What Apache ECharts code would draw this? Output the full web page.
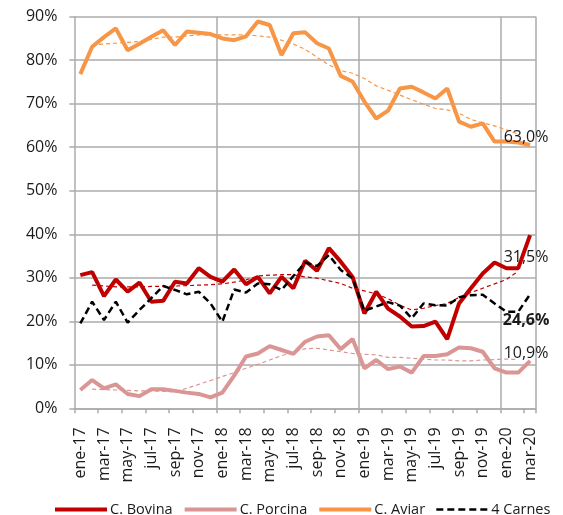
<!DOCTYPE html>
<html><head><meta charset="utf-8">
<script src="https://cdn.jsdelivr.net/npm/echarts@6/dist/echarts.min.js"></script>
<style>html,body{margin:0;padding:0;background:#fff}#c{width:563px;height:515px}</style>
</head><body><div id="c"></div><script>
const months = ['ene-17','feb-17','mar-17','abr-17','may-17','jun-17','jul-17','ago-17','sep-17','oct-17','nov-17','dic-17',
  'ene-18','feb-18','mar-18','abr-18','may-18','jun-18','jul-18','ago-18','sep-18','oct-18','nov-18','dic-18',
  'ene-19','feb-19','mar-19','abr-19','may-19','jun-19','jul-19','ago-19','sep-19','oct-19','nov-19','dic-19',
  'ene-20','feb-20','mar-20'];
const bovina = [30.6,31.3,25.8,29.6,26.8,28.9,24.5,24.7,29.1,28.7,32.2,30.2,29.1,31.9,28.5,30.2,26.4,30.2,27.6,33.9,31.6,36.8,33.7,30.2,21.8,26.8,22.9,21.1,18.8,18.9,19.9,15.9,24.1,27.6,31.0,33.5,32.2,32.2,39.8];
const porcina = [4.2,6.5,4.6,5.5,3.3,2.8,4.4,4.4,4.0,3.6,3.3,2.5,3.6,7.5,11.9,12.6,14.3,13.4,12.5,15.3,16.5,16.8,13.6,15.9,9.2,11.1,9.0,9.6,8.2,12.0,12.0,12.4,14.0,13.8,13.0,9.2,8.2,8.2,10.9];
const aviar = [76.8,83.1,85.3,87.3,82.3,83.8,85.4,86.9,83.5,86.6,86.3,86.0,85.0,84.6,85.5,88.9,88.1,81.2,86.2,86.4,83.9,82.7,76.4,75.1,70.5,66.6,68.4,73.5,73.9,72.6,71.2,73.5,65.9,64.7,65.5,61.3,61.3,61.1,60.5];
const carnes = [19.5,24.5,20.3,24.5,19.7,22.6,25.3,28.1,27.2,26.2,26.8,24.1,19.9,27.3,26.6,28.7,28.5,27.2,30.4,33.5,32.7,35.2,31.8,29.9,22.4,23.4,24.4,23.6,20.7,24.1,23.7,23.6,25.5,26.0,26.1,24.1,22.2,22.2,26.2];
const bovinaTrend = [null,28.3,28.1,27.9,27.9,27.9,28.0,28.0,28.1,28.2,28.3,28.4,28.6,29.0,29.5,30.4,30.6,30.7,30.7,30.2,29.9,29.3,28.7,27.6,27.0,26.3,25.2,23.7,22.6,23.0,23.6,24.1,25.5,26.6,27.6,28.6,29.6,31.5,null];
const porcinaTrend = [null,4.4,4.3,4.2,4.1,4.0,4.0,3.9,3.8,4.6,5.5,6.4,7.3,8.2,9.2,10.1,11.1,12.1,13.0,13.7,13.8,13.4,13.0,12.6,12.4,12.3,11.7,11.7,11.5,11.3,11.1,11.1,10.9,10.9,11.1,11.2,11.3,11.2,null];
const aviarTrend = [null,83.5,83.7,83.9,84.1,84.3,84.8,85.3,85.3,85.6,85.8,85.8,85.8,85.8,85.8,85.6,85.3,84.6,83.7,82.5,80.7,78.9,77.6,77.0,75.8,74.1,73.1,72.0,70.9,69.9,68.9,68.6,67.8,66.4,65.6,64.9,64.0,63.0,null];
const endLabels = {bovina: '31,5%', porcina: '10,9%', aviar: '63,0%', carnes: '24,6%'};
const yTicks = [0,10,20,30,40,50,60,70,80,90];

const FONT = 'Open Sans';
const GRID = '#ababab';
const TXT = '#1a1a1a';
const C_BOV = '#C00000', C_POR = '#DA9694', C_AVI = '#F79646', C_CAR = '#000000';

function mainSeries(name, data, color, width, type, label, offset, bold) {
  return {
    name, type: 'line', data, symbol: 'none', z: 3,
    lineStyle: {color, width, type},
    itemStyle: {color},
    endLabel: {show: true, formatter: label, offset, align: 'center', verticalAlign: 'middle', distance: 0,
      color: TXT, fontFamily: FONT, fontSize: 16, fontWeight: bold ? 'bold' : 'normal'}
  };
}
function trendSeries(name, data, color) {
  return {name, type: 'line', data, symbol: 'none', z: 2, silent: true,
    lineStyle: {color, width: 1.2, type: [4, 3]}, itemStyle: {color}};
}

const chart = echarts.init(document.getElementById('c'));
chart.setOption({
  animation: false,
  grid: {left: 74.4, right: 27, top: 16.7, bottom: 106.7},
  legend: {
    top: 497, left: 48, width: 545, itemWidth: 52, itemHeight: 16, itemGap: 10,
    itemStyle: {opacity: 0},
    data: [
      {name: 'C. Bovina', lineStyle: {width: 4}},
      {name: 'C. Porcina', lineStyle: {width: 4}},
      {name: 'C. Aviar', lineStyle: {width: 4}},
      {name: '4 Carnes', lineStyle: {width: 2.5}}
    ],
    textStyle: {fontFamily: FONT, fontSize: 14.5, color: TXT, padding: [0, 0, 0, -2]}
  },
  xAxis: {
    type: 'category', data: months, boundaryGap: true,
    axisLine: {lineStyle: {color: GRID, width: 1.5}},
    axisTick: {show: true, interval: 1, length: 5, lineStyle: {color: GRID, width: 1.5}},
    axisLabel: {interval: 1, rotate: 90, fontFamily: FONT, fontSize: 16, color: TXT, margin: 19},
    splitLine: {show: true, interval: (i) => i > 0 && i % 12 === 0, lineStyle: {color: GRID, width: 1.5}}
  },
  yAxis: {
    type: 'value', min: yTicks[0], max: yTicks[yTicks.length - 1], interval: 10,
    axisLine: {show: true, lineStyle: {color: GRID, width: 1.5}},
    axisTick: {show: true, length: 5, lineStyle: {color: GRID, width: 1.5}},
    axisLabel: {formatter: '{value}%', fontFamily: FONT, fontSize: 16, color: TXT, margin: 17},
    splitLine: {lineStyle: {color: GRID, width: 1.5}}
  },
  series: [
    trendSeries('t-bovina', bovinaTrend, C_BOV),
    trendSeries('t-porcina', porcinaTrend, C_POR),
    trendSeries('t-aviar', aviarTrend, C_AVI),
    mainSeries('C. Bovina', bovina, C_BOV, 4, 'solid', endLabels.bovina, [-4, 22], false),
    mainSeries('C. Porcina', porcina, C_POR, 4, 'solid', endLabels.porcina, [-4, -7], false),
    mainSeries('C. Aviar', aviar, C_AVI, 4, 'solid', endLabels.aviar, [-4, -8], false),
    mainSeries('4 Carnes', carnes, C_CAR, 2.5, [7, 4], endLabels.carnes, [-4, 26], true)
  ]
});
</script></body></html>
